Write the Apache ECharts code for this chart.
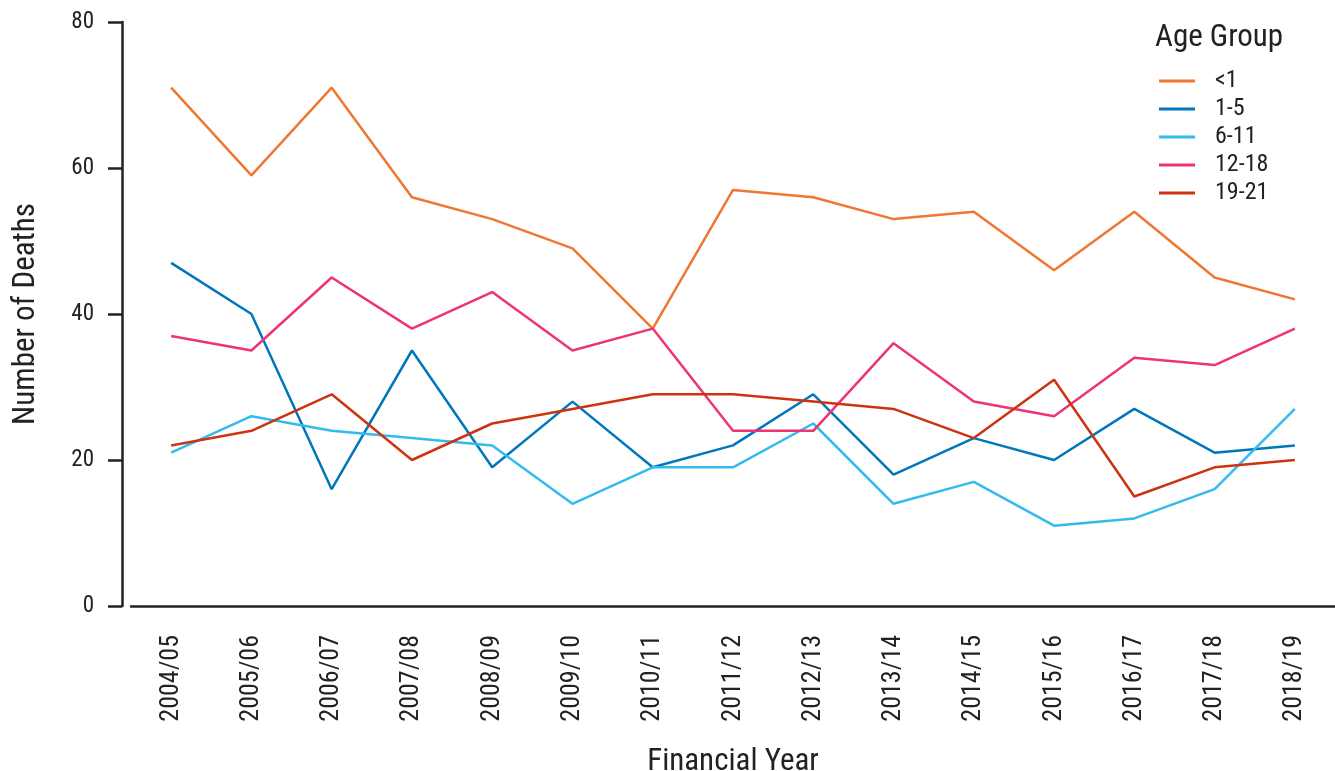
<!DOCTYPE html>
<html><head><meta charset="utf-8">
<script src="https://cdn.jsdelivr.net/npm/echarts@6/dist/echarts.min.js"></script>
<style>html,body{margin:0;padding:0;background:#fff}#c{width:1335px;height:771px}</style>
</head><body><div id="c"></div>
<script>
const categories = ['2004/05','2005/06','2006/07','2007/08','2008/09','2009/10','2010/11','2011/12','2012/13','2013/14','2014/15','2015/16','2016/17','2017/18','2018/19'];
const under1 = [71,59,71,56,53,49,38,57,56,53,54,46,54,45,42];
const age1to5 = [47,40,16,35,19,28,19,22,29,18,23,20,27,21,22];
const age6to11 = [21,26,24,23,22,14,19,19,25,14,17,11,12,16,27];
const age12to18 = [37,35,45,38,43,35,38,24,24,36,28,26,34,33,38];
const age19to21 = [22,24,29,20,25,27,29,29,28,27,23,31,15,19,20];
const seriesNames = ['<1','1-5','6-11','12-18','19-21'];
const seriesData = [under1, age1to5, age6to11, age12to18, age19to21];
const colors = ['#EE7733','#0077BB','#33BBEE','#EE3377','#CC3311'];
const yTicks = [0,20,40,60,80];

const FONT = '"Roboto Condensed","Liberation Sans Narrow",Roboto,sans-serif';
const chart = echarts.init(document.getElementById('c'));
chart.setOption({
  animation:false,
  textStyle:{fontFamily:FONT},
  color:colors,
  title:{text:'Age Group',left:1150,top:23,padding:[0,0,0,5],textStyle:{fontFamily:FONT,fontSize:31,fontWeight:'normal',color:'#222'}},
  legend:{
    orient:'vertical',left:1159,top:69,padding:0,itemWidth:36,itemHeight:3,itemGap:4,icon:'rect',
    textStyle:{fontFamily:FONT,fontSize:24,color:'#222',lineHeight:24,padding:[0,0,0,15]},
    data:seriesNames
  },
  grid:{left:131,right:0,top:22,bottom:165,containLabel:false,outerBoundsMode:'none'},
  xAxis:{
    type:'category',data:categories,boundaryGap:true,
    name:'Financial Year',nameLocation:'middle',nameGap:141,
    nameTextStyle:{fontFamily:FONT,fontSize:31,color:'#222'},
    axisLine:{lineStyle:{color:'#222',width:2.5}},
    axisTick:{alignWithLabel:true,length:14,lineStyle:{color:'#222',width:2.5}},
    axisLabel:{rotate:90,fontSize:26,color:'#222',margin:29,fontFamily:FONT}
  },
  yAxis:{
    type:'value',min:0,max:80,interval:20,offset:9,
    name:'Number of Deaths',nameLocation:'middle',nameGap:80,
    nameTextStyle:{fontFamily:FONT,fontSize:31,color:'#222'},
    axisLine:{show:true,lineStyle:{color:'#222',width:2.5}},
    axisTick:{show:true,length:14,lineStyle:{color:'#222',width:2.5}},
    axisLabel:{fontSize:23,color:'#222',margin:28,fontFamily:FONT,
      formatter:v=>yTicks.includes(v)?String(v):''},
    splitLine:{show:false}
  },
  series:seriesNames.map((n,i)=>({
    name:n,type:'line',data:seriesData[i],symbol:'none',
    lineStyle:{width:2.5,color:colors[i]},itemStyle:{color:colors[i]}
  }))
});
</script></body></html>
